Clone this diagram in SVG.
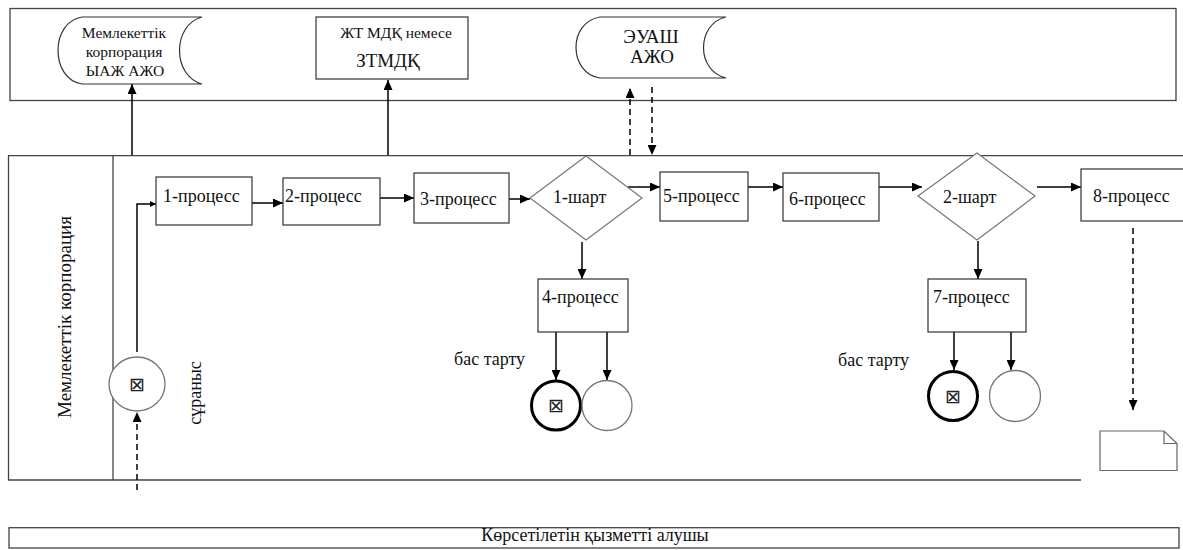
<svg xmlns="http://www.w3.org/2000/svg" width="1183" height="550" viewBox="0 0 1183 550" font-family="'Liberation Serif', 'DejaVu Serif', serif">
<defs>
<marker id="ah" markerUnits="userSpaceOnUse" markerWidth="10" markerHeight="9" refX="10" refY="4.5" orient="auto">
<path d="M0,0 L10,4.5 L0,9 z" fill="#000"/>
</marker>
<marker id="ahs" markerUnits="userSpaceOnUse" markerWidth="6" markerHeight="6" refX="6" refY="3" orient="auto">
<path d="M0,0 L6,3 L0,6 z" fill="#000"/>
</marker>
</defs>
<style>
.lane{fill:none;stroke:#444;stroke-width:1.3}
.box{fill:#fff;stroke:#333;stroke-width:1.2}
.dia{fill:#fff;stroke:#777;stroke-width:1.2}
.thin{fill:#fff;stroke:#777;stroke-width:1.3}
.bold{fill:#fff;stroke:#000;stroke-width:3}
.t{font-family:'Liberation Serif','DejaVu Serif',serif;font-size:18px;fill:#111}
.ts{font-family:'Liberation Serif','DejaVu Serif',serif;font-size:15.5px;fill:#111;text-anchor:middle}
.tb{font-size:19px}
.sym{font-family:'DejaVu Sans',sans-serif;font-size:19px;fill:#222;text-anchor:middle}
.c{stroke:#000;stroke-width:1.5;fill:none;marker-end:url(#ah)}
.d{stroke:#000;stroke-width:1.5;fill:none;stroke-dasharray:6,4;marker-end:url(#ah)}
</style>
<rect width="1183" height="550" fill="#fff"/>

<g id="lanes">
<rect class="lane" x="10" y="8.5" width="1166" height="92"/>
<path class="lane" d="M1183,155.7 H8.5 V480 H1081 M113,155.7 V480"/>
<rect class="lane" x="9" y="527.7" width="1170" height="20.3"/>
<text class="t" style="font-size:19px" transform="translate(71,317) rotate(-90)" text-anchor="middle">Мемлекеттік корпорация</text>
<text class="t" x="595" y="541" text-anchor="middle">Көрсетілетін қызметті алушы</text>
</g>

<g id="connectors">
<path class="c" d="M137,352 V204 H156" style="marker-end:url(#ahs)"/>
<path class="d" d="M137,490 V412"/>
<path class="c" d="M132,155 V84"/>
<path class="c" d="M388,155 V80"/>
<path class="d" d="M630,155 V88"/>
<path class="d" d="M652,87 V155"/>
<path class="c" d="M252,203 H283"/>
<path class="c" d="M380,198 H414"/>
<path class="c" d="M509,199 H530"/>
<path class="c" d="M628,187 H660"/>
<path class="c" d="M748,187 H783"/>
<path class="c" d="M879,187 H922"/>
<path class="c" d="M1037,187 H1081"/>
<path class="c" d="M582,242 V279"/>
<path class="c" d="M978,241 V279"/>
<path class="c" d="M556,332 V380"/>
<path class="c" d="M607,332 V380"/>
<path class="c" d="M954,332 V370"/>
<path class="c" d="M1011,332 V370"/>
<path class="d" d="M1133,228 V410"/>
</g>

<g id="n-iazh">
<path class="box" d="M82,17 H202 C172,25 172,76 202,84 H82 C50,79 50,22 82,17 Z"/>
<text class="ts" x="124" y="38">Мемлекеттік</text>
<text class="ts" x="124" y="57">корпорация</text>
<text class="ts" x="125" y="76">ЫАЖ АЖО</text>
</g>
<g id="n-zhtmdk">
<rect class="box" x="316" y="17" width="152" height="62"/>
<text class="ts" x="396" y="38">ЖТ МДҚ немесе</text>
<text class="ts tb" x="388" y="67">ЗТМДҚ</text>
</g>
<g id="n-euash">
<path class="box" d="M600,17 H726 C696,24 696,71 726,78 H600 C568,73 568,22 600,17 Z"/>
<text class="ts tb" x="651" y="43">ЭУАШ</text>
<text class="ts tb" x="652" y="63">АЖО</text>
</g>

<g id="n-start">
<ellipse class="thin" cx="137" cy="384" rx="28" ry="27"/>
<text class="sym" x="137" y="391">⊠</text>
<text class="t" transform="translate(201,393) rotate(-90)" text-anchor="middle">сұраныс</text>
</g>
<g id="n-p1"><rect class="box" x="156" y="177" width="96" height="48"/><text class="t" x="163" y="202">1-процесс</text></g>
<g id="n-p2"><rect class="box" x="283" y="178" width="97" height="47"/><text class="t" x="285" y="202">2-процесс</text></g>
<g id="n-p3"><rect class="box" x="414" y="173" width="95" height="50"/><text class="t" x="420" y="205">3-процесс</text></g>
<g id="n-c1"><polygon class="dia" points="530,198 586,156 642,198 586,240"/><text class="t" x="553" y="203">1-шарт</text></g>
<g id="n-p5"><rect class="box" x="660" y="172" width="88" height="49"/><text class="t" x="663" y="202">5-процесс</text></g>
<g id="n-p6"><rect class="box" x="783" y="173" width="96" height="48"/><text class="t" x="789" y="205">6-процесс</text></g>
<g id="n-c2"><polygon class="dia" points="918,196 977,153 1035,196 977,240"/><text class="t" x="943" y="203">2-шарт</text></g>
<g id="n-p8"><rect class="box" x="1081" y="169" width="115" height="52"/><text class="t" x="1093" y="202">8-процесс</text></g>
<g id="n-p4"><rect class="box" x="538" y="279" width="90" height="53"/><text class="t" x="542" y="303">4-процесс</text></g>
<g id="n-p7"><rect class="box" x="928" y="279" width="98" height="53"/><text class="t" x="933" y="303">7-процесс</text></g>
<g id="n-rej1"><text class="t" x="454" y="365">бас тарту</text></g>
<g id="n-rej2"><text class="t" x="838" y="366">бас тарту</text></g>
<g id="n-end1a"><circle class="bold" cx="556" cy="405.5" r="24.5"/><text class="sym" x="556" y="412">⊠</text></g>
<g id="n-end1b"><circle class="thin" cx="607" cy="405.5" r="25"/></g>
<g id="n-end2a"><circle class="bold" cx="953" cy="396" r="24.5"/><text class="sym" x="953" y="402.5">⊠</text></g>
<g id="n-end2b"><circle class="thin" cx="1015" cy="396" r="25.5"/></g>
<g id="n-doc">
<path class="box" d="M1100,431 H1164 L1177,443.5 V470.5 H1100 Z M1164,431 V443.5 H1177" style="stroke:#666"/>
</g>
</svg>
